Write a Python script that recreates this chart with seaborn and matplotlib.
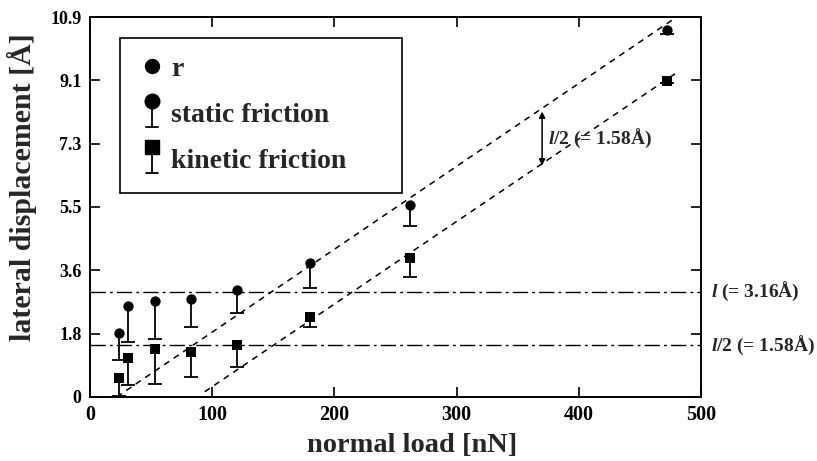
import numpy as np
import pandas as pd
import seaborn as sns
import matplotlib
matplotlib.use("Agg")
import matplotlib.pyplot as plt
from matplotlib.lines import Line2D
from matplotlib.legend_handler import HandlerBase
import matplotlib.transforms as mtransforms

# data
load = [24, 31, 53, 83, 120, 180, 262, 472]
static_top = [1.83, 2.60, 2.75, 2.80, 3.08, 3.85, 5.50, 10.53]
static_low = [1.07, 1.59, 1.66, 2.02, 2.41, 3.13, 4.91, 10.40]
kinetic_top = [0.54, 1.13, 1.37, 1.28, 1.50, 2.30, 4.00, 9.06]
kinetic_low = [0.03, 0.35, 0.37, 0.56, 0.86, 2.00, 3.45, 9.00]

# dashed guide lines
fit_static_x = [22, 480]
fit_static_y = [0.0, 10.9]
fit_kinetic_x = [94, 480]
fit_kinetic_y = [0.15, 9.3]

# horizontal dash-dot lines
hline_y = [3.02, 1.48]
hline_labels = [r"$\mathbfit{l}$ (= 3.16Å)", r"$\mathbfit{l}$/2 (= 1.58Å)"]

# vertical arrow between the two fits
arrow_x = 370
arrow_y = [8.19, 6.64]
arrow_label = r"$\mathbfit{l}$/2 (= 1.58Å)"

xticks = [0, 100, 200, 300, 400, 500]
ytick_labels = ["0", "1.8", "3.6", "5.5", "7.3", "9.1", "10.9"]
ymax = 10.9

sns.set_style("ticks")
plt.rcParams['font.family'] = ['Liberation Serif', 'DejaVu Serif']
plt.rcParams['font.weight'] = 'bold'
plt.rcParams['mathtext.fontset'] = 'custom'
plt.rcParams['mathtext.rm'] = 'Liberation Serif:bold'
plt.rcParams['mathtext.bfit'] = 'Liberation Serif:italic:bold'


class StemHandler(HandlerBase):
    # marker sitting on top of a lower error bar, like the legend of the paper
    def __init__(self, marker, ms):
        super().__init__()
        self.marker = marker
        self.ms = ms

    def create_artists(self, legend, orig_handle, xdescent, ydescent, width, height, fontsize, trans):
        cx = 0.5 * width - xdescent
        cy = 0.5 * height - ydescent
        top = cy + 0.42 * fontsize
        bot = cy - 0.52 * fontsize
        stem = Line2D([cx, cx], [top, bot], color='black', lw=1.3, transform=trans)
        cap = Line2D([cx - 0.2 * fontsize, cx + 0.2 * fontsize], [bot, bot], color='black', lw=1.3, transform=trans)
        mark = Line2D([cx], [top], marker=self.marker, ms=self.ms, color='black', ls='none', transform=trans)
        return [stem, cap, mark]


df = pd.DataFrame({'load': load, 'static': static_top, 'static_low': static_low,
                   'kinetic': kinetic_top, 'kinetic_low': kinetic_low})

fig = plt.figure(figsize=(8.17, 4.61), dpi=100)
ax = fig.add_axes([0.110, 0.139, 0.748, 0.824])

# error stems and caps
for col, low in [('static', 'static_low'), ('kinetic', 'kinetic_low')]:
    ax.vlines(df['load'], df[low], df[col], color='black', lw=1.3, zorder=2)
    ax.plot(df['load'], df[low], ls='none', marker='_', ms=10, mew=1.3, color='black', zorder=2)

sns.scatterplot(data=df, x='load', y='static', marker='o', s=55, color='black',
                edgecolor='black', linewidth=0, ax=ax, zorder=3)
sns.scatterplot(data=df, x='load', y='kinetic', marker='s', s=45, color='black',
                edgecolor='black', linewidth=0, ax=ax, zorder=3)

# guide lines
ax.plot(fit_static_x, fit_static_y, color='black', lw=1.1, ls=(0, (4, 3.5)))
ax.plot(fit_kinetic_x, fit_kinetic_y, color='black', lw=1.1, ls=(0, (4, 3.5)))
for yv in hline_y:
    ax.axhline(yv, color='black', lw=1.0, ls=(0, (11, 3, 2, 3)))

blend = mtransforms.blended_transform_factory(ax.transAxes, ax.transData)
for yv, lab in zip(hline_y, hline_labels):
    ax.text(1.016, yv, lab, transform=blend, ha='left', va='center', fontsize=14,
            fontweight='bold', clip_on=False)

ax.annotate('', xy=(arrow_x, arrow_y[1]), xytext=(arrow_x, arrow_y[0]),
            arrowprops=dict(arrowstyle='<|-|>', color='black', lw=1.1,
                            mutation_scale=9, shrinkA=0, shrinkB=0))
ax.text(arrow_x + 5, np.mean(arrow_y), arrow_label, ha='left', va='center',
        fontsize=14, fontweight='bold')

ax.set_xlim(0, 500)
ax.set_ylim(0, ymax)
ax.set_xticks(xticks)
ax.set_yticks(np.linspace(0, ymax, len(ytick_labels)))
ax.set_yticklabels(ytick_labels)
ax.tick_params(direction='in', top=True, right=True, length=7, width=1.2,
               pad=6, colors='black')
ax.tick_params(axis='x', labelsize=14.5)
ax.tick_params(axis='y', labelsize=13)
for lab in ax.get_xticklabels() + ax.get_yticklabels():
    lab.set_fontweight('bold')
for sp in ax.spines.values():
    sp.set_visible(True)
    sp.set_linewidth(1.4)
    sp.set_color('black')

ax.set_xlabel('normal load [nN]', fontsize=20.5, fontweight='bold')
ax.set_ylabel('lateral displacement [Å]', fontsize=21.5, fontweight='bold')
ax.xaxis.set_label_coords(0.527, -0.095)
ax.yaxis.set_label_coords(-0.086, 0.551)

h_r = Line2D([], [], marker='o', ms=10, color='black', ls='none')
h_static = Line2D([], [], marker='o', color='black')
h_kinetic = Line2D([], [], marker='s', color='black')
leg = ax.legend([h_r, h_static, h_kinetic], ['r', 'static friction', 'kinetic friction'],
                handler_map={h_static: StemHandler('o', 10.5), h_kinetic: StemHandler('s', 9.5)},
                loc='upper left', bbox_to_anchor=(0.049, 0.545, 0.461, 0.40), mode='expand',
                fancybox=False, framealpha=1, edgecolor='black', borderpad=0.66,
                handlelength=1.0, handletextpad=0.2, labelspacing=0.75, borderaxespad=0,
                prop={'family': 'Liberation Serif', 'weight': 'bold', 'size': 20})
leg.get_frame().set_linewidth(1.2)

fig.savefig('out.png', dpi=100)
